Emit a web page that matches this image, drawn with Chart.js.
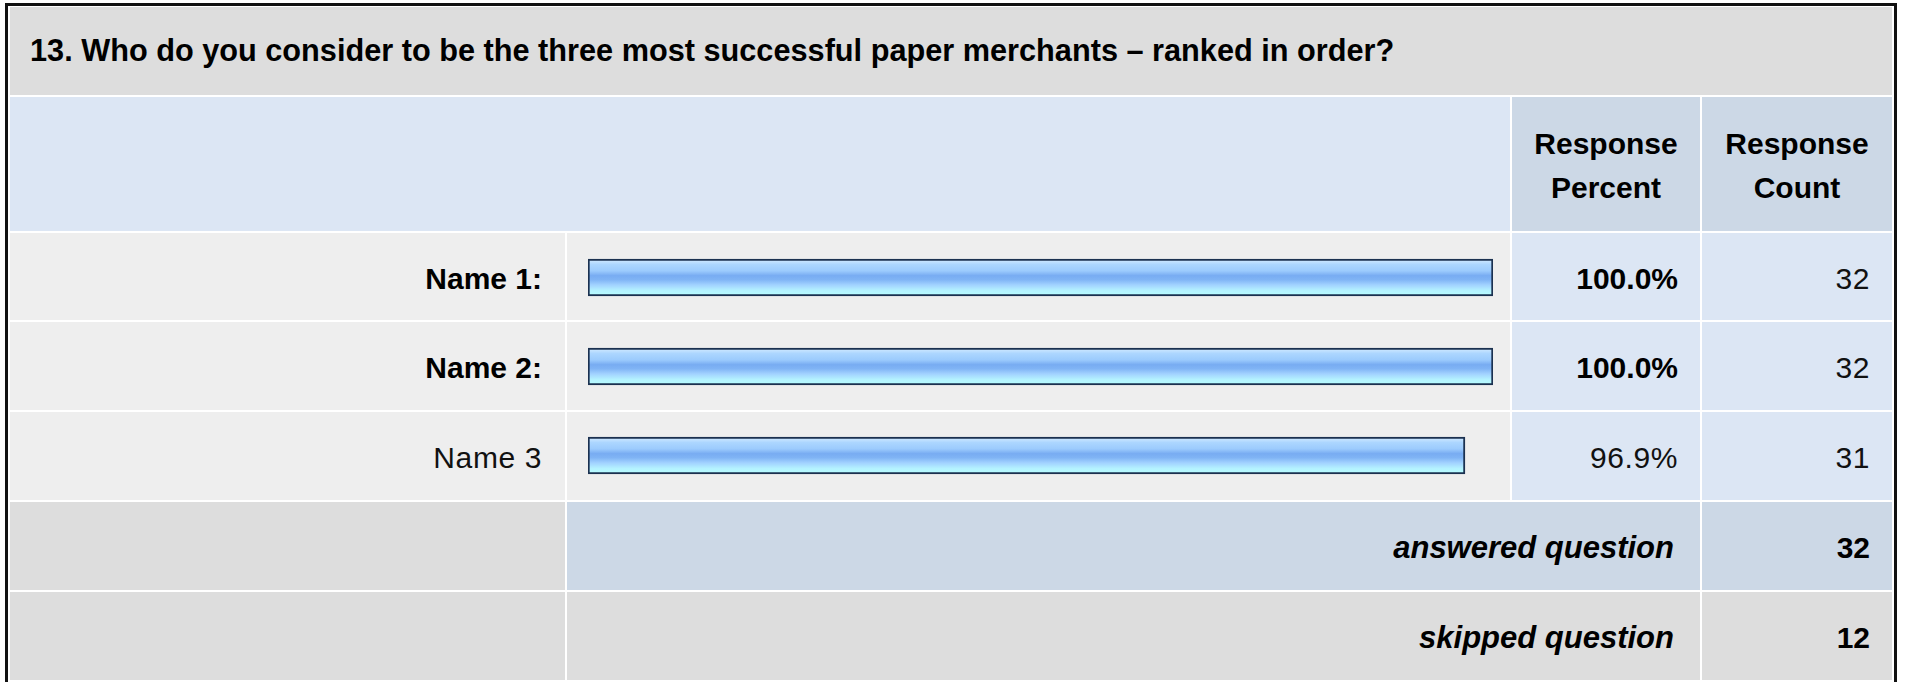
<!DOCTYPE html>
<html>
<head>
<meta charset="utf-8">
<title>Survey question 13</title>
<script src="https://cdn.jsdelivr.net/npm/chart.js@4.4.1/dist/chart.umd.min.js"></script>
<style>
  html, body { margin: 0; padding: 0; background: #fff; overflow: hidden; }
  body { width: 1907px; height: 682px; position: relative; font-family: "Liberation Sans", Arial, sans-serif; }
  #frame { position: absolute; left: 5px; top: 3px; width: 1886px; height: 720px; border: 3px solid #111; }
  .cell { position: absolute; box-sizing: border-box; display: flex; align-items: center; font-size: 30px; color: #111; letter-spacing: 0.6px; }
  .right { justify-content: flex-end; text-align: right; }
  .center { justify-content: center; text-align: center; }
  .bold { font-weight: bold; color: #000; letter-spacing: 0; }
  .italic { font-style: italic; font-size: 31px; }
  .title { font-size: 30.7px; }
  #barBox { position: absolute; left: 567px; top: 233px; width: 943px; height: 267px; }
</style>
</head>
<body>
<div id="frame"></div>
<div id="table"></div>
<div id="barBox"><canvas id="grafico"></canvas></div>

<script>
// dados da pergunta
const questionTitle = '13. Who do you consider to be the three most successful paper merchants \u2013 ranked in order?';
const headerLabels = ['Response<br>Percent', 'Response<br>Count'];
const answerLabels = ['Name 1:', 'Name 2:', 'Name 3'];
const responsePercent = [100.0, 100.0, 96.9];
const responseCount = [32, 32, 31];
const answeredQuestion = 32;
const skippedQuestion = 12;

document.addEventListener('DOMContentLoaded', () => {
  const table = document.getElementById('table');

  // bordas das colunas e linhas (px)
  const cols = [[10, 565], [567, 1510], [1512, 1700], [1702, 1892]];
  const titleRow = [7, 95];
  const headRow = [97, 231];
  const rowTops = [233, 322, 412];
  const rowBottoms = [320, 410, 500];
  const answeredRow = [502, 590];
  const skippedRow = [592, 680];

  function cell(x0, x1, y0, y1, bg, html, cls, pad) {
    const d = document.createElement('div');
    d.className = 'cell ' + (cls || '');
    d.style.left = x0 + 'px';
    d.style.width = (x1 - x0) + 'px';
    d.style.top = y0 + 'px';
    d.style.height = (y1 - y0) + 'px';
    d.style.background = bg;
    if (pad) d.style.padding = pad;
    d.innerHTML = html || '';
    table.appendChild(d);
    return d;
  }

  // titulo
  cell(cols[0][0], cols[3][1], titleRow[0], titleRow[1], '#dddddd', questionTitle, 'bold title', '0 0 0 20px');

  // cabecalho
  cell(cols[0][0], cols[1][1], headRow[0], headRow[1], '#dce6f4');
  const h1 = cell(cols[2][0], cols[2][1], headRow[0], headRow[1], '#ccd8e6', headerLabels[0], 'bold center', '4px 0 0 0');
  const h2 = cell(cols[3][0], cols[3][1], headRow[0], headRow[1], '#ccd8e6', headerLabels[1], 'bold center', '4px 0 0 0');
  h1.style.lineHeight = h2.style.lineHeight = '44px';

  // linhas de respostas
  const top = Math.max(...responsePercent);
  answerLabels.forEach((label, i) => {
    const y0 = rowTops[i], y1 = rowBottoms[i];
    const b = responsePercent[i] === top ? ' bold' : '';
    cell(cols[0][0], cols[0][1], y0, y1, '#eeeeee', label, 'right' + b, '4px 23px 0 0');
    cell(cols[1][0], cols[1][1], y0, y1, '#eeeeee');
    cell(cols[2][0], cols[2][1], y0, y1, '#dce6f4', responsePercent[i].toFixed(1) + '%', 'right' + b, '4px 22px 0 0');
    cell(cols[3][0], cols[3][1], y0, y1, '#dce6f4', String(responseCount[i]), 'right', '4px 22px 0 0');
  });

  // totais
  cell(cols[0][0], cols[0][1], answeredRow[0], answeredRow[1], '#dddddd');
  cell(cols[1][0], cols[2][1], answeredRow[0], answeredRow[1], '#ccd8e6', 'answered question', 'right bold italic', '4px 26px 0 0');
  cell(cols[3][0], cols[3][1], answeredRow[0], answeredRow[1], '#ccd8e6', String(answeredQuestion), 'right bold', '4px 22px 0 0');
  cell(cols[0][0], cols[0][1], skippedRow[0], skippedRow[1], '#dddddd');
  cell(cols[1][0], cols[2][1], skippedRow[0], skippedRow[1], '#dddddd', 'skipped question', 'right bold italic', '4px 26px 0 0');
  cell(cols[3][0], cols[3][1], skippedRow[0], skippedRow[1], '#dddddd', String(skippedQuestion), 'right bold', '4px 22px 0 0');

  // barras
  const barThickness = 37;
  function barFill(c) {
    const chart = c.chart;
    const yScale = chart.scales.y;
    if (!yScale || c.dataIndex === undefined) return '#8cc0fa';
    const cy = yScale.getPixelForValue(c.dataIndex);
    if (!isFinite(cy)) return '#8cc0fa';
    const g = chart.ctx.createLinearGradient(0, cy - barThickness / 2, 0, cy + barThickness / 2);
    g.addColorStop(0, '#d6ecff');
    g.addColorStop(0.15, '#acd6ff');
    g.addColorStop(0.32, '#9ccbfd');
    g.addColorStop(0.45, '#78acf2');
    g.addColorStop(0.56, '#80b4f5');
    g.addColorStop(0.7, '#a2d2ff');
    g.addColorStop(0.85, '#b4f2ff');
    g.addColorStop(1, '#b8ffff');
    return g;
  }

  const ctx = document.getElementById('grafico').getContext('2d');
  new Chart(ctx, {
    type: 'bar',
    data: {
      labels: answerLabels,
      datasets: [{
        data: responsePercent,
        backgroundColor: barFill,
        borderColor: '#1b3150',
        borderWidth: 2,
        borderSkipped: false,
        barThickness: barThickness
      }]
    },
    options: {
      indexAxis: 'y',
      responsive: true,
      maintainAspectRatio: false,
      animation: false,
      layout: { padding: { left: 21, right: 17, top: 0, bottom: 0 } },
      scales: {
        x: { display: false, min: 0, max: 100 },
        y: { display: false }
      },
      plugins: {
        legend: { display: false },
        tooltip: { enabled: false }
      }
    }
  });
});
</script>
</body>
</html>
